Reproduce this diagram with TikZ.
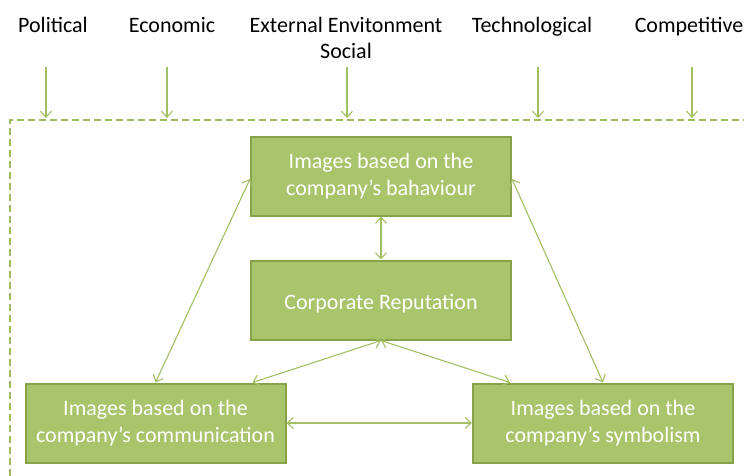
\documentclass[tikz,border=0pt]{standalone}
\usepackage{fontspec}
\setmainfont{Carlito}
\usetikzlibrary{arrows.meta}
\definecolor{boxfill}{HTML}{A9C46B}
\definecolor{boxedge}{HTML}{86A24A}
\definecolor{linkgreen}{HTML}{A2BF63}
\definecolor{framegreen}{HTML}{9DBB5C}
\tikzset{
  x=1pt, y=-1pt,
  imgbox/.style={draw=boxedge, line width=2pt, fill=boxfill, text=white,
    minimum width=260pt, minimum height=79pt, align=center, inner sep=0pt,
    font=\fontsize{22}{27}\selectfont,
    execute at begin node=\rule{0pt}{22pt}},
  twoline/.style={execute at begin node=\rule{0pt}{27pt}},
  factor/.style={font=\fontsize{22}{26}\selectfont, align=center, inner sep=0pt, anchor=north},
  link/.style={draw=linkgreen, line width=1.1pt,
    {Straight Barb[length=6pt,width=11pt]}-{Straight Barb[length=6pt,width=11pt]}},
  push/.style={draw=linkgreen, line width=1.1pt, -{Straight Barb[length=6pt,width=11pt]}},
  frame/.style={draw=framegreen, line width=1.6pt, dash pattern=on 7pt off 4pt}
}
\begin{document}
\begin{tikzpicture}
\useasboundingbox (0,0) rectangle (744,475);

% environment factors along the top
\node[factor] (pol) at (53,17) {Political};
\node[factor] (eco) at (172,17) {Economic};
\node[factor] (ext) at (346,17) {External Envitonment\\Social};
\node[factor] (tec) at (532,17) {Technological};
\node[factor] (com) at (689,17) {Competitive};

% dashed boundary of the organisation
\coordinate (fbl) at (10,476);
\coordinate (ftl) at (10,120);
\coordinate (ftr) at (745,120);
\draw[frame] (fbl) -- (ftl) -- (ftr);

% factor arrows onto the boundary
\foreach \n/\x in {a/46, b/167, c/347, d/538, e/692} {
  \coordinate (s\n) at (\x,67);
  \coordinate (t\n) at (\x,118);
  \draw[push] (s\n) -- (t\n);
}

% image boxes
\node[imgbox, twoline] (beh) at (381,176) {Images based on the\\company’s bahaviour};
\node[imgbox] (rep) at (381,300) {Corporate Reputation};
\node[imgbox, twoline] (cmm) at (155.5,423) {Images based on the\\company’s communication};
\node[imgbox, twoline] (sym) at (603,423) {Images based on the\\company’s symbolism};

% relations between images and reputation
\draw[link] (beh.south) -- (rep.north);
\draw[link] ([yshift=-3pt]beh.west) -- (cmm.north);
\draw[link] ([yshift=-3pt]beh.east) -- (sym.north);
\draw[link] (rep.south) -- ([xshift=97pt]cmm.north);
\draw[link] (rep.south) -- ([xshift=-93pt]sym.north);
\draw[link] (cmm.east) -- (sym.west);
\end{tikzpicture}
\end{document}
